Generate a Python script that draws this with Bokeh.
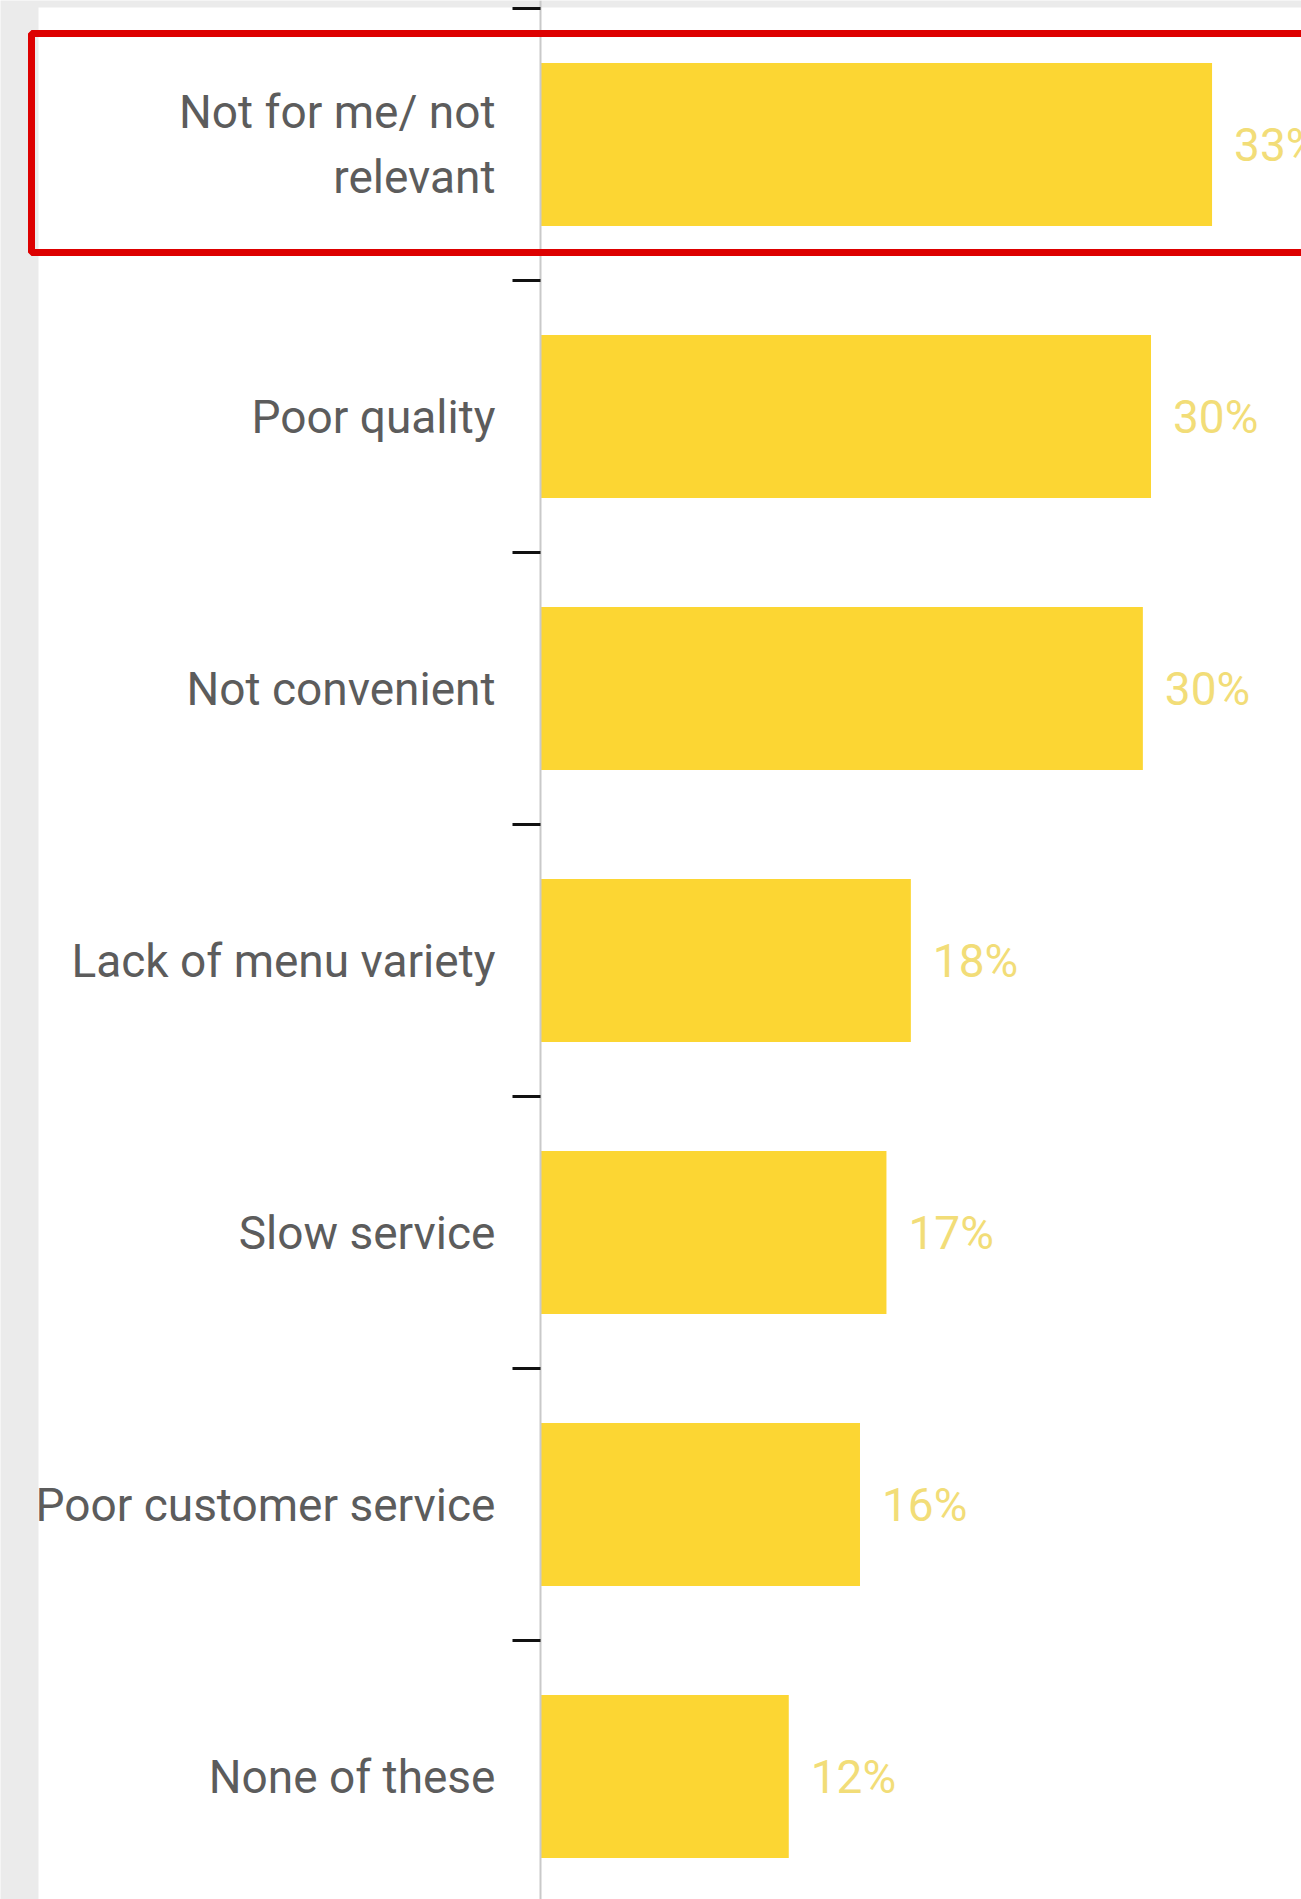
from bokeh.plotting import figure
from bokeh.models import Range1d, FixedTicker, BoxAnnotation, ColumnDataSource, LinearAxis
from bokeh.core.properties import value
from bokeh.embed import file_html
from bokeh.resources import INLINE

# ---- data ----
categories = [
    "Not for me/ not\nrelevant",
    "Poor quality",
    "Not convenient",
    "Lack of menu variety",
    "Slow service",
    "Poor customer service",
    "None of these",
]
values = [33.0, 30.0, 29.6, 18.2, 17.0, 15.7, 12.2]
value_labels = [f"{round(v)}%" for v in values]
highlight_index = 0

# ---- layout / style ----
W, H = 1301, 1899
AXIS_PX = 540          # pixel column of the value-axis zero line
TOP_PX = 8             # pixel row of the first category boundary
ROW_PX = 272           # pixels per category row
PX_PER_PCT = 20.35     # pixels per percentage point
FONT = "Roboto"
BAR_COLOR = "#FCD633"
VALUE_COLOR = "#F2DD78"
LABEL_COLOR = "#5c5c5c"

positions = list(range(len(categories)))
x_start = -AXIS_PX / PX_PER_PCT
x_end = (W - AXIS_PX) / PX_PER_PCT
y_top = -0.5 - TOP_PX / ROW_PX
y_bottom = y_top + H / ROW_PX

p = figure(
    width=W, height=H, output_backend="svg", toolbar_location=None,
    x_range=Range1d(x_start, x_end), y_range=Range1d(y_bottom, y_top),
    x_axis_location=None, y_axis_location=None,
    min_border=0,
)
p.border_fill_color = "#ebebeb"
p.background_fill_color = "#ebebeb"
p.outline_line_color = None
p.xgrid.visible = False
p.ygrid.visible = False

# white card behind the chart (thin grey strips remain at left and top)
card = BoxAnnotation(
    left=x_start + 38 / PX_PER_PCT, right=x_end + 10,
    top=y_top + 7 / ROW_PX, bottom=y_bottom + 5,
    fill_color="white", fill_alpha=1, line_alpha=0, level="underlay",
)
p.add_layout(card)

src = ColumnDataSource(dict(pos=positions, val=values, lab=value_labels))
p.hbar(y="pos", left=0, right="val", height=0.6, source=src,
       fill_color=BAR_COLOR, line_color=None)
p.text(x="val", y="pos", text="lab", source=src, x_offset=22,
       text_baseline="middle", text_align="left",
       text_font=value(FONT), text_font_size="46px", text_color=VALUE_COLOR)

ax = LinearAxis(fixed_location=0)
ax.ticker = FixedTicker(ticks=positions,
                        minor_ticks=[i - 0.5 for i in range(len(categories) + 1)])
ax.major_label_overrides = {i: c for i, c in enumerate(categories)}
ax.major_tick_out = 0
ax.major_tick_in = 0
ax.minor_tick_out = 28
ax.minor_tick_in = 0
ax.minor_tick_line_color = "#111111"
ax.minor_tick_line_width = 3
ax.axis_line_color = "#c9c9c9"
ax.axis_line_width = 2
ax.major_label_standoff = 17
ax.major_label_text_font = FONT
ax.major_label_text_font_size = "46px"
ax.major_label_text_color = LABEL_COLOR
p.add_layout(ax, "left")

# red highlight box around the first row
hl = BoxAnnotation(
    left=x_start + 31 / PX_PER_PCT, right=x_end + 10,
    top=highlight_index - 0.408, bottom=highlight_index + 0.397,
    fill_alpha=0, line_color="#dd0000", line_alpha=1, line_width=7,
    level="overlay",
)
p.add_layout(hl)

open("out.html", "w").write(file_html(p, INLINE))
